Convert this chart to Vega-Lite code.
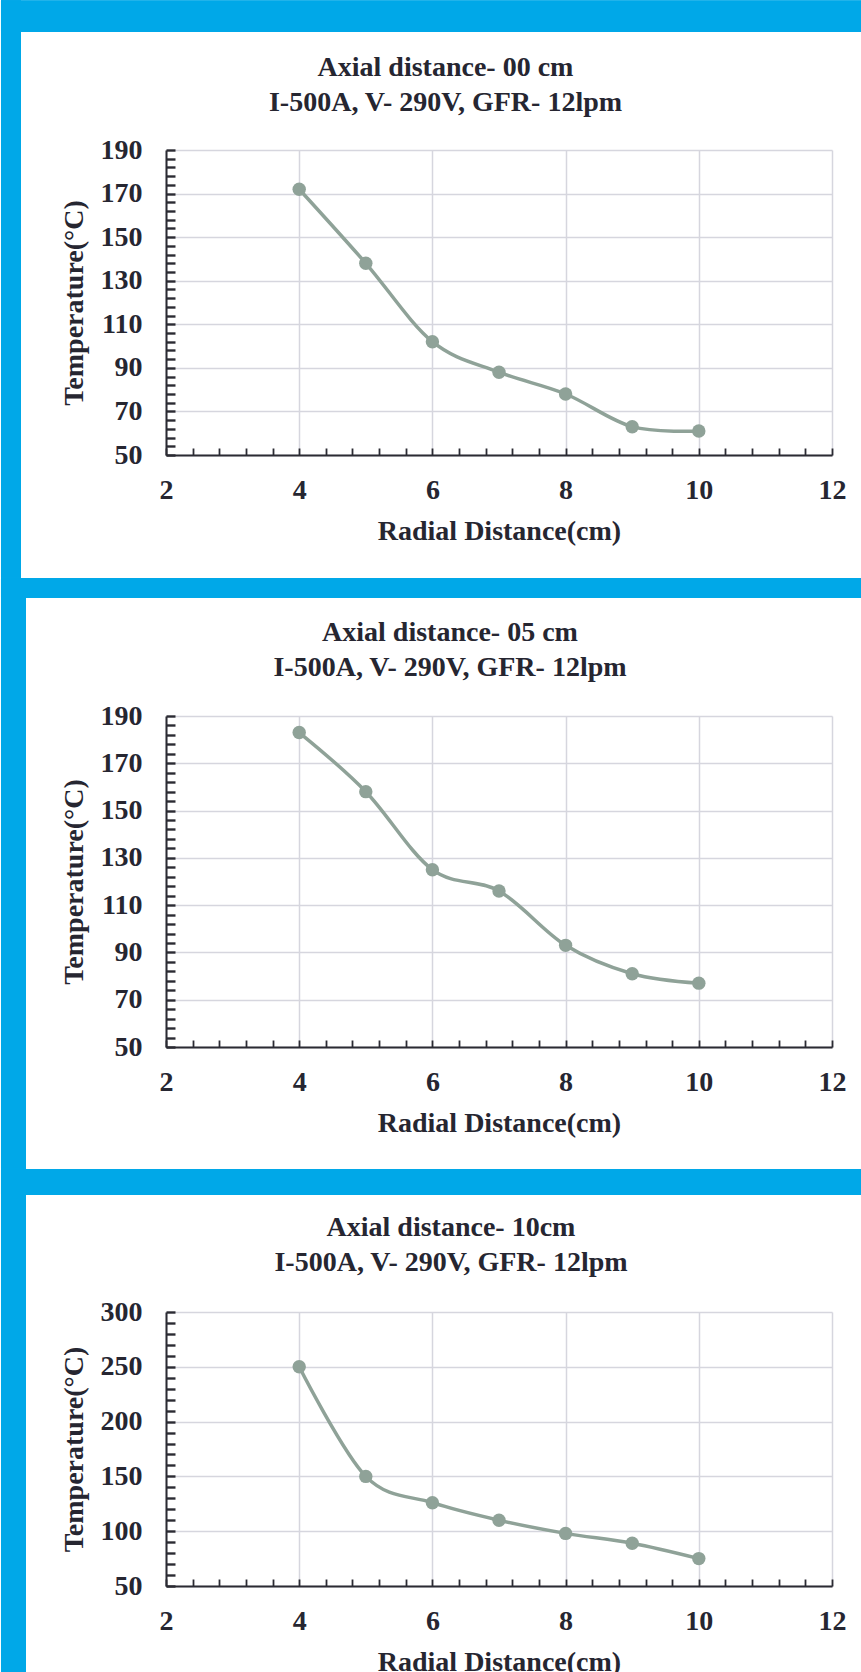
{
  "$schema": "https://vega.github.io/schema/vega-lite/v6.json",
  "background": "white",
  "padding": 0,
  "spacing": 0,
  "config": {
    "font": "Liberation Serif",
    "view": {"stroke": null},
    "title": {"font": "Liberation Serif", "fontSize": 28, "fontWeight": "bold", "color": "#262631", "lineHeight": 35, "anchor": "middle", "frame": "group"},
    "axis": {
      "labelFont": "Liberation Serif", "labelFontSize": 28, "labelFontWeight": "bold", "labelColor": "#262631",
      "titleFont": "Liberation Serif", "titleFontSize": 28, "titleFontWeight": "bold", "titleColor": "#262631",
      "domainColor": "#2b2b33", "domainWidth": 2, "tickColor": "#2b2b33", "tickWidth": 1.8, "tickSize": -7,
      "gridColor": "#d6d6de", "gridWidth": 1.5, "grid": true, "ticks": true,
      "labelOverlap": false, "labelFlush": false, "labelBound": false, "tickCount": 200
    },
    "axisX": {"labelPadding": 28, "titlePadding": 13},
    "axisY": {"labelPadding": 33, "titlePadding": 12}
  },
  "vconcat": [
    {
      "width": 666, "height": 305,
      "title": {"text": ["Axial distance- 00 cm", "I-500A, V- 290V, GFR- 12lpm"], "dx": -53.5, "offset": -116.3},
      "data": {"values": [
        {"r": 4, "t": 172}, {"r": 5, "t": 138}, {"r": 6, "t": 102}, {"r": 7, "t": 88},
        {"r": 8, "t": 78}, {"r": 9, "t": 63}, {"r": 10, "t": 61}
      ]},
      "layer": [
        {
          "mark": {"type": "rect", "color": "#00a8e8"},
          "encoding": {
            "x": {"datum": -0.4775, "type": "quantitative", "title": "Radial Distance(cm)"},
            "x2": {"datum": 12.4505},
            "y": {"datum": 258.53, "type": "quantitative", "title": "Temperature(°C)"},
            "y2": {"datum": 244.30}
          }
        },
        {
          "mark": {"type": "rect", "color": "#00a8e8"},
          "encoding": {
            "x": {"datum": -0.4775, "type": "quantitative", "title": "Radial Distance(cm)"},
            "x2": {"datum": -0.1772},
            "y": {"datum": 258.53, "type": "quantitative", "title": "Temperature(°C)"},
            "y2": {"datum": -6.18}
          }
        },
        {
          "mark": {"type": "line", "interpolate": "cardinal", "color": "#8fa298", "strokeWidth": 3.5},
          "encoding": {
            "x": {"field": "r", "type": "quantitative", "title": "Radial Distance(cm)",
              "scale": {"domain": [2, 12], "nice": false, "zero": false},
              "axis": {"values": [2,2.4,2.8,3.2,3.6,4,4.4,4.8,5.2,5.6,6,6.4,6.8,7.2,7.6,8,8.4,8.8,9.2,9.6,10,10.4,10.8,11.2,11.6,12],
                "tickCount": 200, "labelOverlap": false, "grid": true, "ticks": true,
                "labelExpr": "datum.value % 2 === 0 ? format(datum.value, 'd') : ''",
                "gridOpacity": {"condition": {"test": "datum.value % 2 === 0", "value": 1}, "value": 0}}},
            "y": {"field": "t", "type": "quantitative", "title": "Temperature(°C)",
              "scale": {"domain": [50, 190], "nice": false, "zero": false},
              "axis": {"values": [50,54,58,62,66,70,74,78,82,86,90,94,98,102,106,110,114,118,122,126,130,134,138,142,146,150,154,158,162,166,170,174,178,182,186,190],
                "tickCount": 200, "labelOverlap": false, "grid": true, "ticks": true, "tickSize": -9, "tickWidth": 2.4,
                "labelExpr": "(datum.value - 50) % 20 === 0 ? format(datum.value, 'd') : ''",
                "gridOpacity": {"condition": {"test": "(datum.value - 50) % 20 === 0", "value": 1}, "value": 0}}}
          }
        },
        {
          "mark": {"type": "circle", "color": "#8fa298", "size": 180, "opacity": 1},
          "encoding": {
            "x": {"field": "r", "type": "quantitative", "title": "Radial Distance(cm)"},
            "y": {"field": "t", "type": "quantitative", "title": "Temperature(°C)"}
          }
        }
      ]
    },
    {
      "width": 666, "height": 331,
      "title": {"text": ["Axial distance- 05 cm", "I-500A, V- 290V, GFR- 12lpm"], "dx": -49, "offset": -104},
      "data": {"values": [
        {"r": 4, "t": 183}, {"r": 5, "t": 158}, {"r": 6, "t": 125}, {"r": 7, "t": 116},
        {"r": 8, "t": 93}, {"r": 9, "t": 81}, {"r": 10, "t": 77}
      ]},
      "layer": [
        {
          "mark": {"type": "rect", "color": "#00a8e8"},
          "encoding": {
            "x": {"datum": -0.4775, "type": "quantitative", "title": "Radial Distance(cm)"},
            "x2": {"datum": 12.4505},
            "y": {"datum": 248.20, "type": "quantitative", "title": "Temperature(°C)"},
            "y2": {"datum": 240.16}
          }
        },
        {
          "mark": {"type": "rect", "color": "#00a8e8"},
          "encoding": {
            "x": {"datum": -0.4775, "type": "quantitative", "title": "Radial Distance(cm)"},
            "x2": {"datum": -0.1021},
            "y": {"datum": 248.20, "type": "quantitative", "title": "Temperature(°C)"},
            "y2": {"datum": -1.47}
          }
        },
        {
          "mark": {"type": "line", "interpolate": "cardinal", "color": "#8fa298", "strokeWidth": 3.5},
          "encoding": {
            "x": {"field": "r", "type": "quantitative", "title": "Radial Distance(cm)",
              "scale": {"domain": [2, 12], "nice": false, "zero": false},
              "axis": {"values": [2,2.4,2.8,3.2,3.6,4,4.4,4.8,5.2,5.6,6,6.4,6.8,7.2,7.6,8,8.4,8.8,9.2,9.6,10,10.4,10.8,11.2,11.6,12],
                "tickCount": 200, "labelOverlap": false, "grid": true, "ticks": true,
                "labelExpr": "datum.value % 2 === 0 ? format(datum.value, 'd') : ''",
                "gridOpacity": {"condition": {"test": "datum.value % 2 === 0", "value": 1}, "value": 0}}},
            "y": {"field": "t", "type": "quantitative", "title": "Temperature(°C)",
              "scale": {"domain": [50, 190], "nice": false, "zero": false},
              "axis": {"values": [50,54,58,62,66,70,74,78,82,86,90,94,98,102,106,110,114,118,122,126,130,134,138,142,146,150,154,158,162,166,170,174,178,182,186,190],
                "tickCount": 200, "labelOverlap": false, "grid": true, "ticks": true, "tickSize": -9, "tickWidth": 2.4,
                "labelExpr": "(datum.value - 50) % 20 === 0 ? format(datum.value, 'd') : ''",
                "gridOpacity": {"condition": {"test": "(datum.value - 50) % 20 === 0", "value": 1}, "value": 0}}}
          }
        },
        {
          "mark": {"type": "circle", "color": "#8fa298", "size": 180, "opacity": 1},
          "encoding": {
            "x": {"field": "r", "type": "quantitative", "title": "Radial Distance(cm)"},
            "y": {"field": "t", "type": "quantitative", "title": "Temperature(°C)"}
          }
        }
      ]
    },
    {
      "width": 666, "height": 274,
      "title": {"text": ["Axial distance- 10cm", "I-500A, V- 290V, GFR- 12lpm"], "dx": -48, "offset": -108},
      "data": {"values": [
        {"r": 4, "t": 250}, {"r": 5, "t": 150}, {"r": 6, "t": 126}, {"r": 7, "t": 110},
        {"r": 8, "t": 98}, {"r": 9, "t": 89}, {"r": 10, "t": 75}
      ]},
      "layer": [
        {
          "mark": {"type": "rect", "color": "#00a8e8"},
          "encoding": {
            "x": {"datum": -0.4775, "type": "quantitative", "title": "Radial Distance(cm)"},
            "x2": {"datum": 12.4505},
            "y": {"datum": 430.02, "type": "quantitative", "title": "Temperature(°C)"},
            "y2": {"datum": 407.21}
          }
        },
        {
          "mark": {"type": "rect", "color": "#00a8e8"},
          "encoding": {
            "x": {"datum": -0.4775, "type": "quantitative", "title": "Radial Distance(cm)"},
            "x2": {"datum": -0.1021},
            "y": {"datum": 430.02, "type": "quantitative", "title": "Temperature(°C)"},
            "y2": {"datum": -30.75}
          }
        },
        {
          "mark": {"type": "line", "interpolate": "cardinal", "color": "#8fa298", "strokeWidth": 3.5},
          "encoding": {
            "x": {"field": "r", "type": "quantitative", "title": "Radial Distance(cm)",
              "scale": {"domain": [2, 12], "nice": false, "zero": false},
              "axis": {"values": [2,2.4,2.8,3.2,3.6,4,4.4,4.8,5.2,5.6,6,6.4,6.8,7.2,7.6,8,8.4,8.8,9.2,9.6,10,10.4,10.8,11.2,11.6,12],
                "tickCount": 200, "labelOverlap": false, "grid": true, "ticks": true,
                "labelExpr": "datum.value % 2 === 0 ? format(datum.value, 'd') : ''",
                "gridOpacity": {"condition": {"test": "datum.value % 2 === 0", "value": 1}, "value": 0}}},
            "y": {"field": "t", "type": "quantitative", "title": "Temperature(°C)",
              "scale": {"domain": [50, 300], "nice": false, "zero": false},
              "axis": {"values": [50,60,70,80,90,100,110,120,130,140,150,160,170,180,190,200,210,220,230,240,250,260,270,280,290,300],
                "tickCount": 200, "labelOverlap": false, "grid": true, "ticks": true, "tickSize": -9, "tickWidth": 2.4,
                "labelExpr": "datum.value % 50 === 0 ? format(datum.value, 'd') : ''",
                "gridOpacity": {"condition": {"test": "datum.value % 50 === 0", "value": 1}, "value": 0}}}
          }
        },
        {
          "mark": {"type": "circle", "color": "#8fa298", "size": 180, "opacity": 1},
          "encoding": {
            "x": {"field": "r", "type": "quantitative", "title": "Radial Distance(cm)"},
            "y": {"field": "t", "type": "quantitative", "title": "Temperature(°C)"}
          }
        }
      ]
    }
  ]
}
